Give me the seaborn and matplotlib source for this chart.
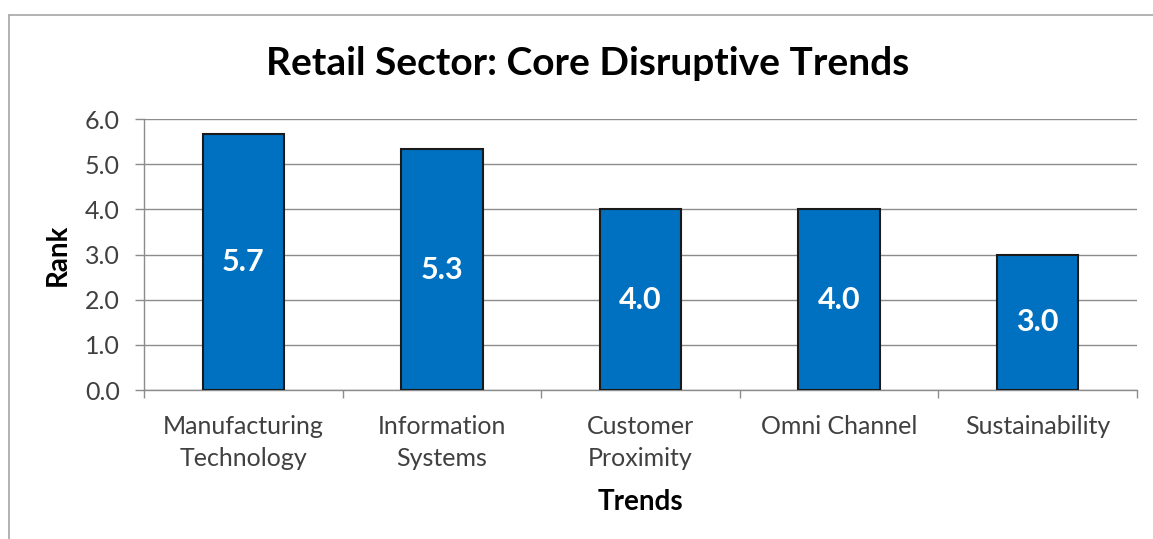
import matplotlib
matplotlib.use("Agg")
import matplotlib.pyplot as plt
import matplotlib.lines as mlines
import seaborn as sns
import pandas as pd

categories = ["Manufacturing\nTechnology", "Information\nSystems", "Customer\nProximity",
              "Omni Channel", "Sustainability"]
ranks = [5.67, 5.33, 4.0, 4.0, 3.0]
y_ticks = [0.0, 1.0, 2.0, 3.0, 4.0, 5.0, 6.0]

sns.set_theme(style="white")
plt.rcParams["font.family"] = ["Lato", "DejaVu Sans"]

df = pd.DataFrame({"Trends": categories, "Rank": ranks})

fig = plt.figure(figsize=(11.53, 5.39), dpi=100)
ax = fig.add_axes([0.1249, 0.2764, 0.8612, 0.5028])

sns.barplot(data=df, x="Trends", y="Rank", ax=ax, color="#0070C0", saturation=1,
            width=0.41, edgecolor="#1a1a1a", linewidth=1.5, zorder=3)

ax.set_ylim(0, 6)
ax.set_xlim(-0.5, len(categories) - 0.5)
ax.set_yticks(y_ticks)
ax.set_yticklabels([f"{v:.1f}" for v in y_ticks])
ax.yaxis.grid(True, color="#8c8c8c", linewidth=1.0, zorder=0)
ax.xaxis.grid(False)

for s in ["top", "right"]:
    ax.spines[s].set_visible(False)
for s in ["left", "bottom"]:
    ax.spines[s].set_color("#8c8c8c")
    ax.spines[s].set_linewidth(1.0)

ax.tick_params(axis="y", which="major", length=6.5, width=1.0, color="#8c8c8c",
               left=True, labelsize=18, labelcolor="#404040", pad=11)
ax.tick_params(axis="x", which="major", length=0, labelsize=18, labelcolor="#404040", pad=18)
# category boundary tick marks below the x axis
ax.set_xticks([i - 0.5 for i in range(len(categories) + 1)], minor=True)
ax.tick_params(axis="x", which="minor", length=6, width=1.0, color="#8c8c8c", bottom=True)
for lbl in ax.get_xticklabels():
    lbl.set_linespacing(1.45)

ax.bar_label(ax.containers[0], fmt="%.1f", label_type="center", color="white",
             fontsize=22, fontweight="bold")

ax.set_xlabel("Trends", fontsize=20, fontweight="bold", color="black", labelpad=14)
ax.set_ylabel("Rank", fontsize=20, fontweight="bold", color="black", labelpad=10)

fig.suptitle("Retail Sector: Core Disruptive Trends", x=0.51, y=0.914,
             fontsize=28, fontweight="bold", color="black")

# outer chart frame (left and top edges)
fig.add_artist(mlines.Line2D([0.0075, 0.0075], [0.0, 0.972], color="#a6a6a6", linewidth=1.2))
fig.add_artist(mlines.Line2D([0.0075, 1.0], [0.972, 0.972], color="#a6a6a6", linewidth=1.2))

fig.savefig("out.png", dpi=100, facecolor="white")
